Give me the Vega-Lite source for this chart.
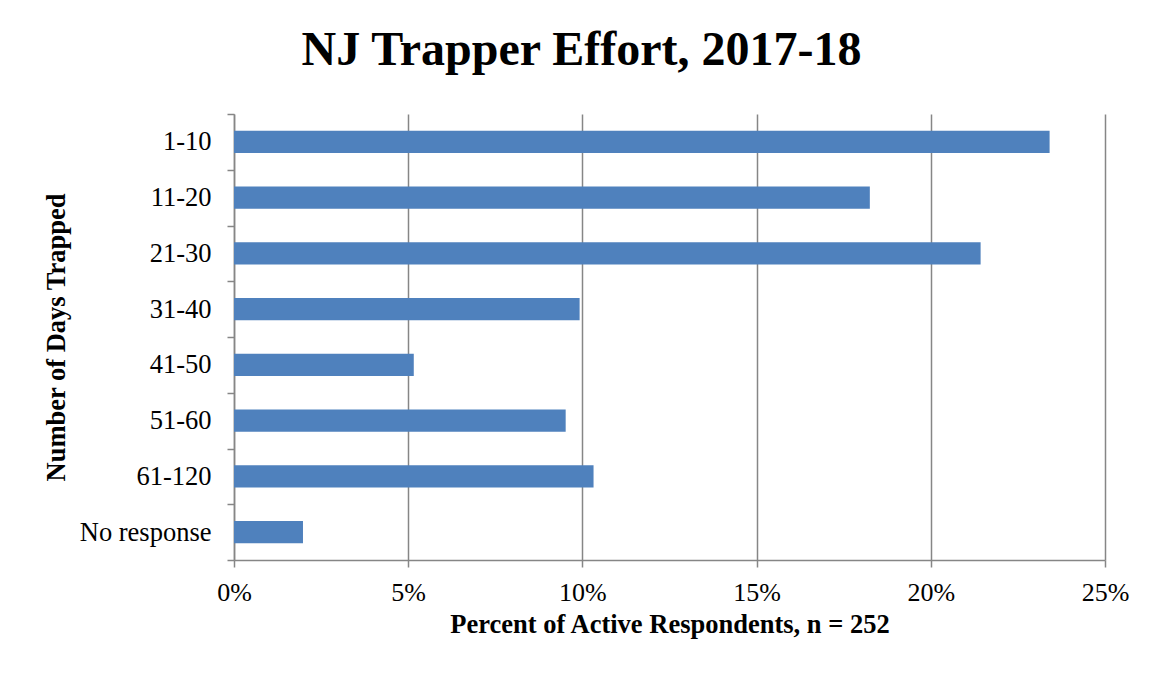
{
  "$schema": "https://vega.github.io/schema/vega-lite/v6.json",
  "width": 871,
  "height": 446,
  "autosize": {"type": "none"},
  "padding": {"left": 234, "top": 114, "right": 47, "bottom": 113},
  "background": "white",
  "title": {
    "text": "NJ Trapper Effort, 2017-18",
    "font": "Liberation Serif",
    "fontSize": 48,
    "fontWeight": "bold",
    "color": "black",
    "anchor": "middle",
    "dx": -88,
    "baseline": "alphabetic",
    "offset": -12
  },
  "data": {
    "values": [
      {"days": "1-10", "pct": 0.2341},
      {"days": "11-20", "pct": 0.1825},
      {"days": "21-30", "pct": 0.2143},
      {"days": "31-40", "pct": 0.0992},
      {"days": "41-50", "pct": 0.0516},
      {"days": "51-60", "pct": 0.0952},
      {"days": "61-120", "pct": 0.1032},
      {"days": "No response", "pct": 0.0198}
    ]
  },
  "mark": {"type": "bar", "color": "#4F81BD", "height": {"band": 0.4}},
  "encoding": {
    "y": {
      "field": "days",
      "type": "nominal",
      "sort": null,
      "scale": {"paddingInner": 0, "paddingOuter": 0},
      "axis": {
        "title": "Number of Days Trapped",
        "titleFont": "Liberation Serif",
        "titleFontSize": 26.5,
        "titleFontWeight": "bold",
        "titleColor": "black",
        "titlePadding": 9,
        "labelFont": "Liberation Serif",
        "labelFontSize": 26.5,
        "labelColor": "black",
        "labelPadding": 16,
        "tickBand": "extent",
        "tickSize": 7,
        "tickColor": "#868686",
        "tickWidth": 1.5,
        "domainColor": "#868686",
        "domainWidth": 1.5,
        "grid": false
      }
    },
    "x": {
      "field": "pct",
      "type": "quantitative",
      "scale": {"domain": [0, 0.25], "nice": false},
      "axis": {
        "title": "Percent of Active Respondents, n = 252",
        "titleFont": "Liberation Serif",
        "titleFontSize": 26.5,
        "titleFontWeight": "bold",
        "titleColor": "black",
        "titlePadding": 6,
        "format": ".0%",
        "values": [0, 0.05, 0.1, 0.15, 0.2, 0.25],
        "labelFont": "Liberation Serif",
        "labelFontSize": 26,
        "labelColor": "black",
        "labelPadding": 12,
        "labelFlush": false,
        "tickSize": 7,
        "tickColor": "#868686",
        "tickWidth": 1.5,
        "domainColor": "#868686",
        "domainWidth": 1.5,
        "grid": true,
        "gridColor": "#868686",
        "gridWidth": 1.5
      }
    }
  },
  "config": {"view": {"stroke": null}}
}
